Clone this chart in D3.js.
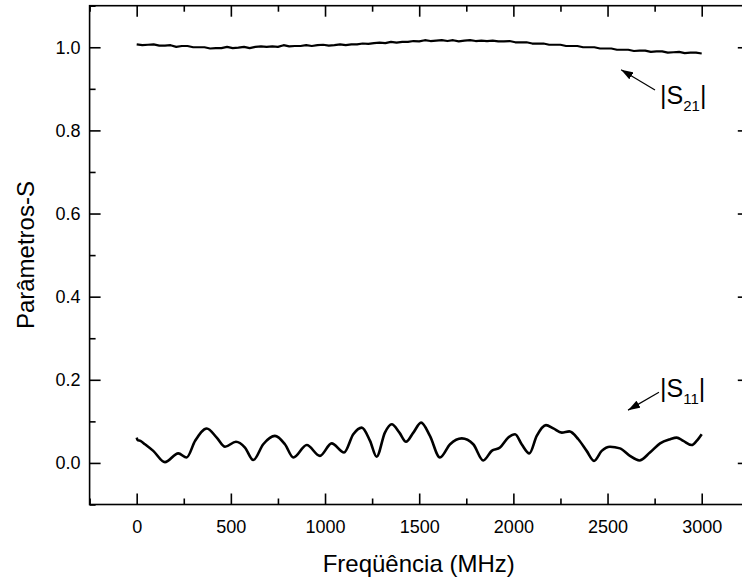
<!DOCTYPE html>
<html><head><meta charset="utf-8">
<script src="https://cdn.jsdelivr.net/npm/d3@7/dist/d3.min.js"></script>
<style>
body{margin:0;background:#fff}
svg{display:block}
text{font-family:"Liberation Sans",Arial,sans-serif;fill:#000}
</style>
</head><body>
<svg id="chart" width="742" height="579"></svg>
<script>
// ---------- data ----------
const s11Freq = [0,5,20,44,88,150,221,265,310,372,425,469,527,575,619,672,734,787,832,903,973,1035,1101,1150,1195,1239,1274,1318,1354,1395,1430,1469,1510,1557,1610,1664,1726,1787,1840,1885,1929,1973,2009,2044,2085,2124,2173,2212,2257,2297,2345,2389,2428,2469,2513,2566,2619,2669,2725,2779,2832,2867,2902,2947,2973,3000];
const s11Vals = [0.061,0.055,0.053,0.045,0.029,0.002,0.023,0.013,0.053,0.083,0.061,0.039,0.051,0.037,0.007,0.045,0.065,0.045,0.013,0.043,0.017,0.047,0.025,0.069,0.085,0.053,0.015,0.073,0.093,0.073,0.051,0.073,0.097,0.065,0.013,0.045,0.059,0.045,0.006,0.029,0.037,0.061,0.069,0.045,0.023,0.065,0.091,0.083,0.073,0.076,0.057,0.029,0.005,0.029,0.039,0.035,0.017,0.006,0.025,0.047,0.057,0.061,0.053,0.043,0.053,0.069];

const s21Freq = [0,30,60,90,120,150,180,210,240,270,300,330,360,390,420,450,480,510,540,570,600,630,660,690,720,750,780,810,840,870,900,930,960,990,1020,1050,1080,1110,1140,1170,1200,1230,1260,1290,1320,1350,1380,1410,1440,1470,1500,1530,1560,1590,1620,1650,1680,1710,1740,1770,1800,1830,1860,1890,1920,1950,1980,2010,2040,2070,2100,2130,2160,2190,2220,2250,2280,2310,2340,2370,2400,2430,2460,2490,2520,2550,2580,2610,2640,2670,2700,2730,2760,2790,2820,2850,2880,2910,2940,2970,3000];
const s21Vals = [1.007,1.005,1.006,1.007,1.004,1.004,1.005,1.001,1.003,1.003,1.000,1.000,1.000,0.997,0.998,0.998,1.001,0.998,0.999,1.001,0.998,1.001,1.002,1.001,1.002,1.001,1.005,1.002,1.003,1.003,1.005,1.003,1.005,1.006,1.004,1.005,1.007,1.005,1.007,1.007,1.009,1.008,1.010,1.011,1.010,1.013,1.011,1.013,1.013,1.015,1.014,1.017,1.015,1.016,1.017,1.015,1.017,1.014,1.016,1.017,1.015,1.016,1.015,1.016,1.014,1.014,1.015,1.012,1.012,1.012,1.009,1.009,1.009,1.006,1.006,1.006,1.003,1.003,1.003,1.000,1.000,1.000,0.997,0.997,0.997,0.994,0.994,0.994,0.991,0.992,0.992,0.989,0.990,0.990,0.987,0.988,0.989,0.986,0.987,0.987,0.985];

const xMajorTicks = [0,500,1000,1500,2000,2500,3000];
const xTickLabels = ["0","500","1000","1500","2000","2500","3000"];
const xMinorTicks = [-250,250,750,1250,1750,2250,2750,3250];
const yMajorTicks = [0,0.2,0.4,0.6,0.8,1.0];
const yTickLabels = ["0.0","0.2","0.4","0.6","0.8","1.0"];
const yMinorTicks = [-0.1,0.1,0.3,0.5,0.7,0.9,1.1];
const xTitle = "Freqüência (MHz)";
const yTitle = "Parâmetros-S";

const annLabels = ["21","11"];
const annTip = [[2572,0.946],[2609,0.127]];
const annTail = [[2752,0.897],[2773,0.170]];
const annText = [[2779,0.864],[2779,0.159]];

// ---------- chart ----------
const svg = d3.select("#chart");
const pL = 89.6, pR = 748.8, pT = 5.7, pB = 504.5;
const x = d3.scaleLinear().domain([-250,3250]).range([pL,pR]);
const y = d3.scaleLinear().domain([-0.1,1.1]).range([pB,pT]);

const tickFont = 18;

// bottom axis
svg.append("g").attr("transform",`translate(0,${pB})`)
  .call(d3.axisBottom(x).tickValues(xMajorTicks).tickSizeInner(-11).tickSizeOuter(0).tickPadding(16)
    .tickFormat((d,i)=>xTickLabels[i]));
svg.append("g").attr("transform",`translate(0,${pB})`)
  .call(d3.axisBottom(x).tickValues(xMinorTicks).tickSizeInner(-6).tickSizeOuter(0).tickFormat(""));
// top axis
svg.append("g").attr("transform",`translate(0,${pT})`)
  .call(d3.axisTop(x).tickValues(xMajorTicks).tickSizeInner(-11).tickSizeOuter(0).tickFormat(""));
svg.append("g").attr("transform",`translate(0,${pT})`)
  .call(d3.axisTop(x).tickValues(xMinorTicks).tickSizeInner(-6).tickSizeOuter(0).tickFormat(""));
// left axis
svg.append("g").attr("transform",`translate(${pL},0)`)
  .call(d3.axisLeft(y).tickValues(yMajorTicks).tickSizeInner(-11).tickSizeOuter(0).tickPadding(9)
    .tickFormat((d,i)=>yTickLabels[i]));
svg.append("g").attr("transform",`translate(${pL},0)`)
  .call(d3.axisLeft(y).tickValues(yMinorTicks).tickSizeInner(-6).tickSizeOuter(0).tickFormat(""));
// right axis
svg.append("g").attr("transform",`translate(${pR},0)`)
  .call(d3.axisRight(y).tickValues(yMajorTicks).tickSizeInner(-11).tickSizeOuter(0).tickFormat(""));
svg.append("g").attr("transform",`translate(${pR},0)`)
  .call(d3.axisRight(y).tickValues(yMinorTicks).tickSizeInner(-6).tickSizeOuter(0).tickFormat(""));

svg.selectAll(".domain").remove();
svg.selectAll(".tick line").attr("stroke","#000").attr("stroke-width",1.6);
svg.selectAll(".tick text").attr("font-size",tickFont).attr("font-family","Liberation Sans, Arial, sans-serif").attr("fill","#000");

// frame
svg.append("rect").attr("x",pL).attr("y",pT).attr("width",pR-pL).attr("height",pB-pT)
  .attr("fill","none").attr("stroke","#000").attr("stroke-width",1.6);

// lines
svg.append("path").datum(s21Freq.map((f,i)=>[f,s21Vals[i]]))
  .attr("d",d3.line().x(d=>x(d[0])).y(d=>y(d[1])).curve(d3.curveLinear))
  .attr("fill","none").attr("stroke","#000").attr("stroke-width",2.2).attr("stroke-linejoin","round");
svg.append("path").datum(s11Freq.map((f,i)=>[f,s11Vals[i]]))
  .attr("d",d3.line().x(d=>x(d[0])).y(d=>y(d[1])).curve(d3.curveMonotoneX))
  .attr("fill","none").attr("stroke","#000").attr("stroke-width",2.6).attr("stroke-linejoin","round");

// titles
svg.append("text").attr("x",(pL+pR)/2 - 0.5).attr("y",572).attr("text-anchor","middle")
  .attr("font-size",24).text(xTitle);
svg.append("text").attr("transform",`translate(34,${(pT+pB)/2}) rotate(-90)`).attr("text-anchor","middle")
  .attr("font-size",24).text(yTitle);

// annotations
const defs = svg.append("defs");
defs.append("marker").attr("id","ah").attr("viewBox","0 0 12 8").attr("refX",12).attr("refY",4)
  .attr("markerWidth",12).attr("markerHeight",8).attr("markerUnits","userSpaceOnUse").attr("orient","auto")
  .append("path").attr("d","M0,0 L12,4 L0,8 Z").attr("fill","#000");

annLabels.forEach((lab,i)=>{
  svg.append("line").attr("x1",x(annTail[i][0])).attr("y1",y(annTail[i][1]))
    .attr("x2",x(annTip[i][0])).attr("y2",y(annTip[i][1]))
    .attr("stroke","#000").attr("stroke-width",1.2).attr("marker-end","url(#ah)");
  const t = svg.append("text").attr("x",x(annText[i][0])).attr("y",y(annText[i][1])).attr("font-size",25);
  t.append("tspan").text("|S");
  t.append("tspan").attr("font-size",15).attr("dy",7).text(lab);
  t.append("tspan").attr("dy",-7).text("|");
});
</script>
</body></html>
